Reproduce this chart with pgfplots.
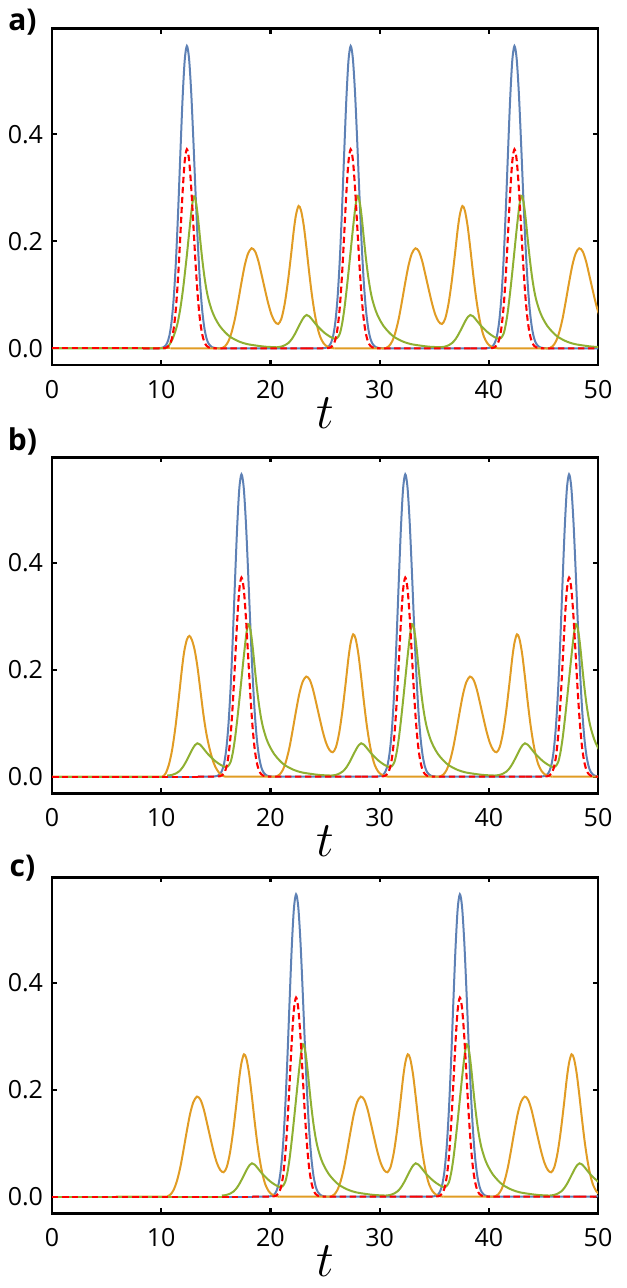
\documentclass[border=0pt]{standalone}
\usepackage{pgfplots}
\pgfplotsset{compat=1.18}
\usepackage{pgfplotstable}
\usepackage{fontspec}
\setmainfont{Open Sans}
\definecolor{mblue}{rgb}{0.368417,0.506779,0.709798}
\definecolor{morange}{rgb}{0.880722,0.611041,0.142051}
\definecolor{mgreen}{rgb}{0.560181,0.691569,0.194885}

\pgfplotstableread{
s v
-4 0
-3.0 0
-2.6 0.0001
-2.2 0.0014
-2.0 0.0040
-1.8 0.0102
-1.6 0.0236
-1.4 0.0497
-1.2 0.0948
-1.0 0.1635
-0.8 0.2555
-0.6 0.3616
-0.4 0.4633
-0.2 0.5377
0 0.565
0.2 0.5418
0.4 0.4776
0.6 0.3871
0.8 0.2885
1.0 0.1977
1.2 0.1245
1.4 0.0722
1.6 0.0384
1.8 0.0188
2.0 0.0085
2.3 0.0022
2.7 0.0003
3.2 0
3.7 0
11 0
}\tblue

\pgfplotstableread{
s v
-4 0
-3.0 0
-2.6 0
-2.3 0.0002
-2.0 0.0006
-1.8 0.0021
-1.6 0.0063
-1.4 0.0163
-1.2 0.0375
-1.0 0.0756
-0.8 0.1341
-0.6 0.2095
-0.4 0.2882
-0.2 0.3490
0 0.372
0.2 0.3525
0.4 0.3001
0.6 0.2293
0.8 0.1574
1.0 0.0971
1.2 0.0537
1.4 0.0267
1.6 0.0119
1.8 0.0048
2.0 0.0017
2.3 0.0003
2.7 0
3.2 0
11 0
}\tred

\pgfplotstableread{
s v
-6.8 0.002
-6.4 0.003
-6.0 0.006
-5.7 0.010
-5.4 0.017
-5.1 0.027
-4.8 0.039
-4.5 0.051
-4.25 0.059
-4.04 0.0623
-3.8 0.060
-3.5 0.053
-3.15 0.044
-2.82 0.037
-2.4 0.029
-1.91 0.022
-1.5 0.018
-1.25 0.019
-1.0 0.027
-0.8 0.044
-0.6 0.070
-0.4 0.104
-0.2 0.142
0 0.182
0.2 0.222
0.4 0.259
0.5 0.274
0.62 0.285
0.75 0.281
0.9 0.264
1.05 0.238
1.2 0.207
1.4 0.168
1.6 0.135
1.8 0.109
2.0 0.090
2.3 0.070
2.6 0.056
3.0 0.042
3.5 0.030
4.0 0.021
4.8 0.0125
5.5 0.008
6.4 0.005
7.2 0.003
8.2 0.002
}\tgreen

\pgfplotstableread{
s v
-12.35 0
-2.6 0
-2.2 0
-1.8 0.002
-1.56 0.008
-1.3 0.018
-1.05 0.032
-0.85 0.047
-0.6 0.074
-0.36 0.109
-0.2 0.137
0 0.174
0.2 0.214
0.4 0.253
0.5 0.270
0.62 0.284
0.75 0.281
0.9 0.264
1.05 0.238
1.2 0.207
1.4 0.168
1.6 0.135
1.8 0.109
2.0 0.090
2.3 0.070
2.6 0.056
3.0 0.042
3.5 0.030
4.0 0.021
4.8 0.0125
5.5 0.008
6.4 0.005
7.2 0.003
8.2 0.002
}\tgreenfirst

\pgfplotstableread{
s v
-1.5 0
2.7 0
3.2 0
3.5 0.004
3.8 0.013
4.1 0.030
4.4 0.055
4.7 0.088
5.0 0.123
5.3 0.155
5.6 0.177
5.93 0.187
6.25 0.181
6.55 0.163
6.85 0.137
7.15 0.110
7.45 0.084
7.75 0.063
8.05 0.050
8.36 0.0455
8.65 0.055
8.95 0.082
9.25 0.124
9.55 0.176
9.8 0.222
10.0 0.250
10.23 0.266
10.45 0.258
10.7 0.230
10.95 0.188
11.2 0.142
11.45 0.100
11.7 0.066
11.95 0.040
12.2 0.022
12.5 0.010
12.8 0.004
13.1 0.001
13.5 0
}\torange

\pgfplotstableread{
t v
0 0
9.6 0
10.1 0
10.4 0.006
10.7 0.022
11.0 0.050
11.3 0.092
11.6 0.145
11.88 0.198
12.1 0.233
12.35 0.256
12.58 0.263
12.8 0.256
13.05 0.238
13.3 0.208
13.55 0.168
13.86 0.117
14.15 0.079
14.47 0.049
14.8 0.026
15.1 0.013
15.4 0.005
15.7 0.001
15.85 0
}\torangeb

\pgfplotsset{
  panel/.style={
    width=273pt, height=168pt, scale only axis,
    xmin=0, xmax=50, ymin=-0.031, ymax=0.597,
    xtick={0,10,20,30,40,50}, ytick={0,0.2,0.4},
    tick pos=both, tick align=inside,
    major tick length=2.6pt,
    axis line style={line width=1.4pt},
    every tick/.style={black, line width=1.1pt},
    tick label style={font=\fontsize{12.5}{12.5}\selectfont},
    /pgf/number format/assume math mode=true,
    yticklabel style={/pgf/number format/fixed, /pgf/number format/fixed zerofill, /pgf/number format/precision=1, anchor=east, inner sep=0pt, xshift=-4.3pt},
    xticklabel style={anchor=north, inner sep=0pt, yshift=-7.3pt},
    xlabel={$t$},
    xlabel style={font=\fontsize{24}{24}\selectfont, at={(axis description cs:0.5,0)}, anchor=base, yshift=-31.8pt},
  },
  bl/.style={color=mblue, line width=1.0pt, smooth},
  og/.style={color=morange, line width=1.0pt, smooth},
  gr/.style={color=mgreen, line width=1.0pt, smooth},
  rd/.style={color=red, line width=1.05pt, smooth, dash pattern=on 3.2pt off 1.8pt},
}

\begin{document}
\begin{tikzpicture}
\path[use as bounding box] (0,0) rectangle (313pt,-644pt);

% ---------------- panel a
\begin{axis}[panel, at={(26pt,-14.45pt)}, anchor=north west]
\addplot[bl] coordinates {(0,0) (8.35,0)};
\addplot[bl] table[x expr=\thisrow{s}+12.35, y=v]{\tblue};
\addplot[bl] table[x expr=\thisrow{s}+27.35, y=v]{\tblue};
\addplot[bl] table[x expr=\thisrow{s}+42.35, y=v]{\tblue};
\addplot[og] coordinates {(0,0) (10.85,0)};
\addplot[og] table[x expr=\thisrow{s}+12.35, y=v]{\torange};
\addplot[og] table[x expr=\thisrow{s}+27.35, y=v]{\torange};
\addplot[og] table[x expr=\thisrow{s}+42.35, y=v]{\torange};
\addplot[gr] table[x expr=\thisrow{s}+12.35, y=v]{\tgreenfirst};
\addplot[gr] table[x expr=\thisrow{s}+27.35, y=v]{\tgreen};
\addplot[gr] table[x expr=\thisrow{s}+42.35, y=v]{\tgreen};
\addplot[rd] coordinates {(0,0) (8.35,0)};
\addplot[rd] table[x expr=\thisrow{s}+12.35, y=v]{\tred};
\addplot[rd] table[x expr=\thisrow{s}+27.35, y=v]{\tred};
\addplot[rd] table[x expr=\thisrow{s}+42.35, y=v]{\tred};
\end{axis}

% ---------------- panel b
\begin{axis}[panel, at={(26pt,-228.6pt)}, anchor=north west]
\addplot[bl] coordinates {(0,0) (13.35,0)};
\addplot[bl] table[x expr=\thisrow{s}+17.35, y=v]{\tblue};
\addplot[bl] table[x expr=\thisrow{s}+32.35, y=v]{\tblue};
\addplot[bl] table[x expr=\thisrow{s}+47.35, y=v]{\tblue};
\addplot[og] table[x=t, y=v]{\torangeb};
\addplot[og] table[x expr=\thisrow{s}+17.35, y=v]{\torange};
\addplot[og] table[x expr=\thisrow{s}+32.35, y=v]{\torange};
\addplot[og] table[x expr=\thisrow{s}+47.35, y=v]{\torange};
\addplot[gr] coordinates {(0,0) (10.55,0)};
\addplot[gr] table[x expr=\thisrow{s}+17.35, y=v]{\tgreen};
\addplot[gr] table[x expr=\thisrow{s}+32.35, y=v]{\tgreen};
\addplot[gr] table[x expr=\thisrow{s}+47.35, y=v]{\tgreen};
\addplot[rd] coordinates {(0,0) (13.35,0)};
\addplot[rd] table[x expr=\thisrow{s}+17.35, y=v]{\tred};
\addplot[rd] table[x expr=\thisrow{s}+32.35, y=v]{\tred};
\addplot[rd] table[x expr=\thisrow{s}+47.35, y=v]{\tred};
\end{axis}

% ---------------- panel c
\begin{axis}[panel, at={(26pt,-438.6pt)}, anchor=north west]
\addplot[bl] coordinates {(0,0) (18.35,0)};
\addplot[bl] table[x expr=\thisrow{s}+22.35, y=v]{\tblue};
\addplot[bl] table[x expr=\thisrow{s}+37.35, y=v]{\tblue};
\addplot[bl] table[x expr=\thisrow{s}+52.35, y=v]{\tblue};
\addplot[og] coordinates {(0,0) (5.85,0)};
\addplot[og] table[x expr=\thisrow{s}+7.35, y=v]{\torange};
\addplot[og] table[x expr=\thisrow{s}+22.35, y=v]{\torange};
\addplot[og] table[x expr=\thisrow{s}+37.35, y=v]{\torange};
\addplot[gr] coordinates {(0,0) (15.55,0)};
\addplot[gr] table[x expr=\thisrow{s}+22.35, y=v]{\tgreen};
\addplot[gr] table[x expr=\thisrow{s}+37.35, y=v]{\tgreen};
\addplot[gr] table[x expr=\thisrow{s}+52.35, y=v]{\tgreen};
\addplot[rd] coordinates {(0,0) (18.35,0)};
\addplot[rd] table[x expr=\thisrow{s}+22.35, y=v]{\tred};
\addplot[rd] table[x expr=\thisrow{s}+37.35, y=v]{\tred};
\addplot[rd] table[x expr=\thisrow{s}+52.35, y=v]{\tred};
\end{axis}

\node[font=\bfseries\fontsize{15}{15}\selectfont] at (11.25pt,-11pt) {a)};
\node[font=\bfseries\fontsize{15}{15}\selectfont] at (11.25pt,-220.8pt) {b)};
\node[font=\bfseries\fontsize{15}{15}\selectfont] at (11.25pt,-434.3pt) {c)};
\end{tikzpicture}
\end{document}
